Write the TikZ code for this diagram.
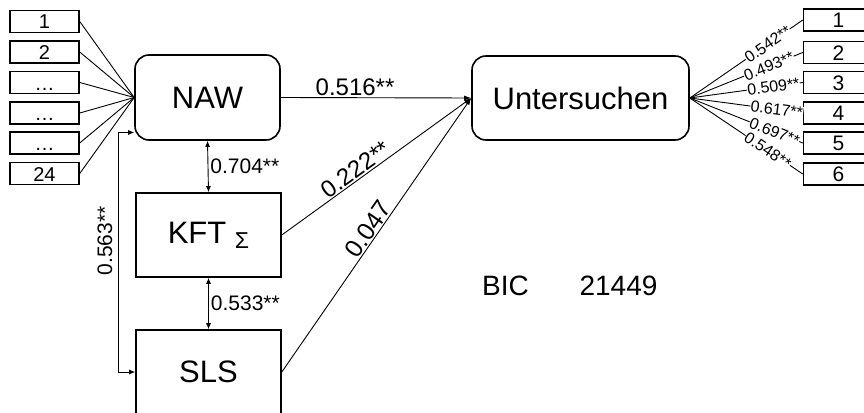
\documentclass[tikz,border=0pt]{standalone}
\usepackage{fontspec}
\setmainfont{Liberation Sans}
\usetikzlibrary{arrows.meta,calc}
\newcommand{\fsz}[1]{\fontsize{#1}{#1}\selectfont}
\begin{document}
\begin{tikzpicture}[x=1pt,y=-1pt,
  latent/.style={draw, line width=1.6pt, rounded corners=14pt, minimum width=145pt, minimum height=85pt, font=\fsz{31}, inner sep=0pt},
  obsbox/.style={draw, line width=1.6pt, minimum width=145pt, minimum height=84pt, font=\fsz{31}, inner sep=0pt},
  indl/.style={draw, line width=1.5pt, minimum width=69pt, minimum height=22pt, inner sep=0pt, font=\fsz{20}, text height=15pt, text depth=0pt},
  indr/.style={draw, line width=1.5pt, minimum width=70pt, minimum height=22pt, inner sep=0pt, font=\fsz{21}, text height=15pt, text depth=0pt},
  conn/.style={line width=0.9pt},
  arr/.style={conn, -{Latex[length=7pt,width=5pt]}},
  darr/.style={conn, {Latex[length=6pt,width=5pt]}-{Latex[length=6pt,width=5pt]}},
  coef/.style={font=\fsz{21}, inner sep=2pt},
  big/.style={font=\fsz{24}, inner sep=1pt, sloped, above},
  load/.style={font=\fsz{16}, fill=white, inner sep=0.3pt, sloped},
]
\useasboundingbox (0,0) rectangle (864,412);
\clip (0,0) rectangle (864,412);

% latent and observed variables
\node[latent] (naw) at (207.5,97.5) {NAW};
\node[obsbox] (kft) at (208.5,235) {KFT \raisebox{-5pt}{\fsz{23}Σ}};
\node[obsbox] (sls) at (208.5,372) {SLS};
\node[latent, minimum width=217pt, minimum height=84pt] (unt) at (580.5,98) {Untersuchen};

% left indicators
\node[indl] (i1) at (44.5,21.5) {1};
\node[indl] (i2) at (44.5,52) {2};
\node[indl] (i3) at (44.5,82.5) {\ldots};
\node[indl] (i4) at (44.5,113) {\ldots};
\node[indl] (i5) at (44.5,143) {\ldots};
\node[indl] (i6) at (44.5,173.5) {24};
\foreach \i in {1,...,6} \draw[conn] (i\i.east) -- (naw.west);

% right indicators
\node[indr] (r1) at (838.5,20) {1};
\node[indr] (r2) at (838.5,52.5) {2};
\node[indr] (r3) at (838.5,82.5) {3};
\node[indr] (r4) at (838.5,113) {4};
\node[indr] (r5) at (838.5,143) {5};
\node[indr] (r6) at (838.5,174) {6};
\draw[conn] (unt.east) -- node[load, pos=0.69] {0.542**} (r1.west);
\draw[conn] (unt.east) -- node[load, pos=0.70] {0.493**} (r2.west);
\draw[conn] (unt.east) -- node[load, pos=0.74] {0.509**} (r3.west);
\draw[conn] (unt.east) -- node[load, pos=0.77] {0.617**} (r4.west);
\draw[conn] (unt.east) -- node[load, pos=0.75] {0.697**} (r5.west);
\draw[conn] (unt.east) -- node[load, pos=0.69] {0.548**} (r6.west);

% paths
\draw[arr] (naw.east) -- node[font=\fsz{24}, inner sep=2pt, pos=0.39, above] {0.516**} (unt.west);
\draw[arr] (kft.east) -- node[big, pos=0.42] {0.222**} (unt.west);
\draw[arr] (sls.east) -- node[big, pos=0.5, font=\fsz{25}] {0.047} (unt.west);

% correlations
\draw[darr] (naw.south) -- node[coef, right] {0.704**} (kft.north);
\draw[darr] (kft.south) -- node[coef, right] {0.533**} (sls.north);
\draw[darr] ($(naw.west)+(0,35)$) -- ++(-16,0) |- (sls.west);
\node[coef, rotate=90] (c563) at (105,241) {0.563**};

% fit
\node[font=\fsz{28}, inner sep=0pt] (bic) at (505.5,285.5) {BIC};
\node[font=\fsz{28}, inner sep=0pt] (bicv) at (618.5,285.5) {21449};
\end{tikzpicture}
\end{document}
